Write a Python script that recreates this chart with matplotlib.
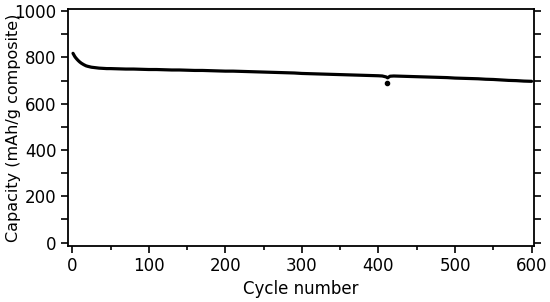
import matplotlib
matplotlib.use("Agg")
import matplotlib.pyplot as plt
from matplotlib.ticker import MultipleLocator

# capacity (cycle, mAh/g composite)
cycles = [1, 2, 3, 4, 5, 6, 8, 10, 12, 15, 18, 20, 25, 30, 35, 40, 45, 50,
          60, 70, 80, 90, 100, 110, 120, 130, 140, 150, 160, 170, 180, 190,
          200, 210, 220, 230, 240, 250, 260, 270, 280, 290, 300, 310, 320,
          330, 340, 350, 360, 370, 380, 390, 400, 405, 410, 412, 415, 420,
          430, 440, 450, 460, 470, 480, 490, 500, 510, 520, 530, 540, 550,
          560, 570, 580, 590, 600]
capacity = [818, 812, 806, 801, 797, 793, 786, 780, 775, 769, 764, 762, 758,
            756, 754, 753, 752, 752, 751, 750, 750, 749, 748, 748, 747, 746,
            746, 745, 744, 744, 743, 742, 741, 741, 740, 739, 738, 737, 736,
            735, 734, 733, 731, 730, 729, 728, 727, 726, 725, 724, 723, 722,
            721, 720, 716, 712, 719, 720, 719, 718, 717, 716, 715, 714, 713,
            711, 710, 709, 708, 706, 705, 703, 701, 700, 698, 697]
outlier_cycle = [411]
outlier_cap = [690]

plt.rcParams["font.family"] = "DejaVu Sans"
fig = plt.figure(figsize=(5.5, 3.02), dpi=100)
ax = fig.add_axes([0.123, 0.186, 0.847, 0.783])

ax.plot(cycles, capacity, color="black", lw=2.3, solid_capstyle="round")
ax.plot(outlier_cycle, outlier_cap, "o", color="black", ms=3)

ax.set_xlim(-6, 602.5)
ax.set_ylim(-14, 1008)
ax.set_xlabel("Cycle number", fontsize=12, labelpad=4)
ax.set_ylabel("Capacity (mAh/g composite)", fontsize=11.5)
ax.yaxis.set_label_coords(-0.1, 0.5)

ax.xaxis.set_major_locator(MultipleLocator(100))
ax.xaxis.set_minor_locator(MultipleLocator(50))
ax.yaxis.set_major_locator(MultipleLocator(200))
ax.yaxis.set_minor_locator(MultipleLocator(100))
ax.tick_params(axis="both", which="major", direction="out", length=5,
               width=1.2, labelsize=12, pad=3)
ax.tick_params(axis="both", which="minor", direction="out", length=3, width=1.2)
ax.tick_params(axis="y", which="both", right=True)
ax.tick_params(axis="y", which="minor", right=True, length=5)

for s in ax.spines.values():
    s.set_linewidth(1.3)

fig.savefig("out.png", dpi=100)
